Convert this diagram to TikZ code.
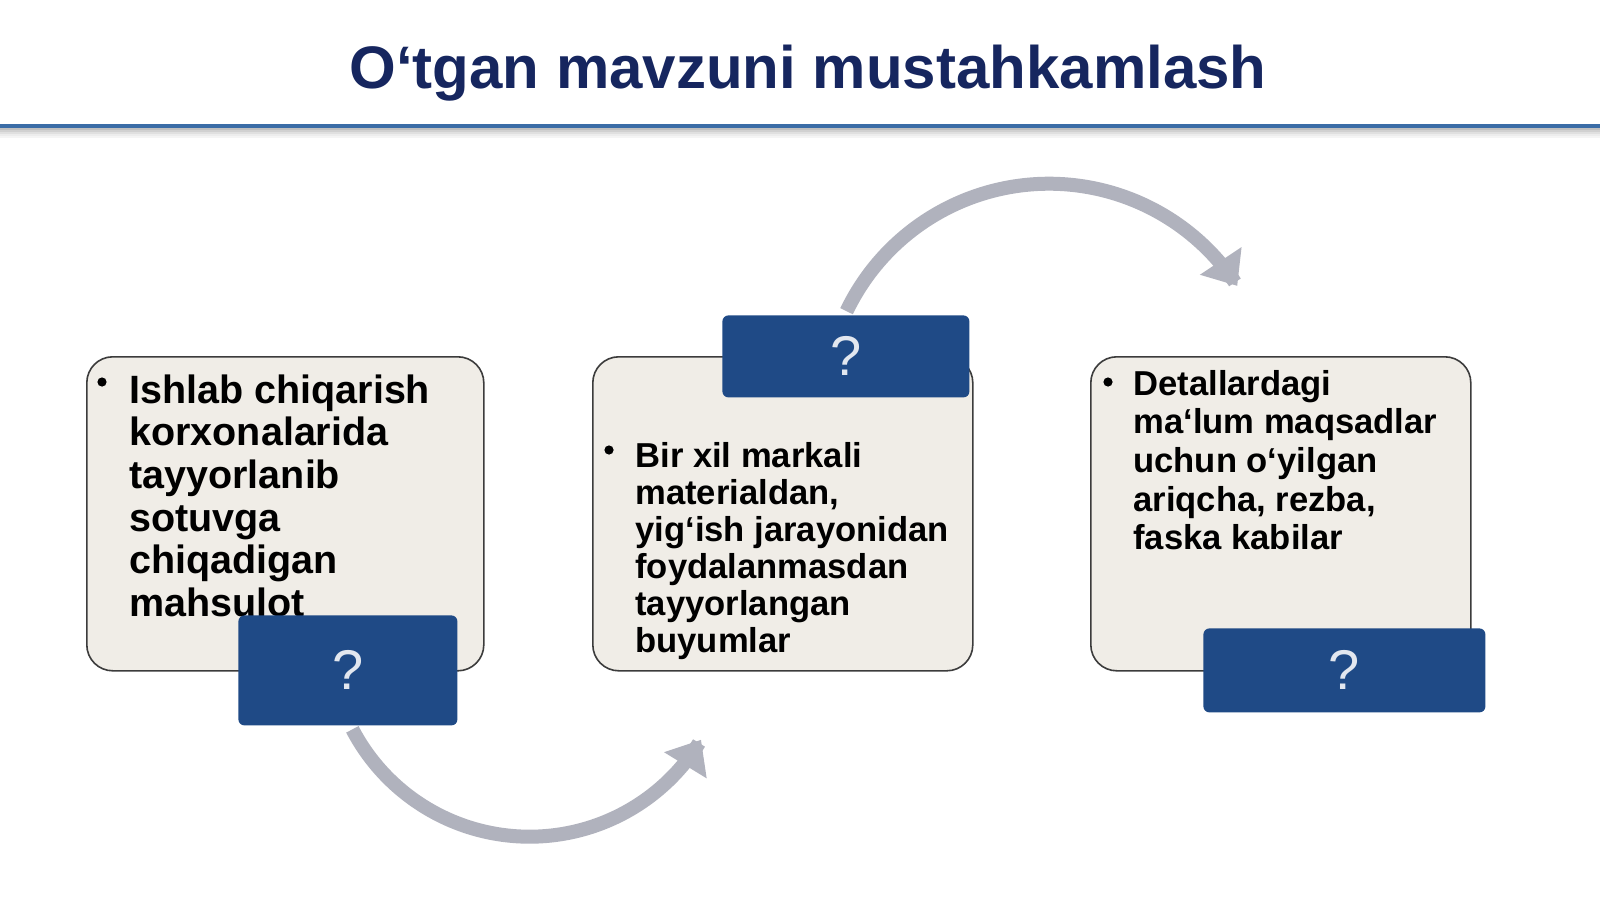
\documentclass[tikz,border=0pt]{standalone}
\usepackage{fontspec}
\setmainfont{Liberation Sans}
\usetikzlibrary{arrows.meta}
\definecolor{navy}{HTML}{16265F}
\definecolor{rulecol}{HTML}{3A6CA6}
\definecolor{boxfill}{HTML}{F0EDE7}
\definecolor{boxline}{HTML}{3C3C3C}
\definecolor{qblue}{HTML}{1F4A86}
\definecolor{qtext}{HTML}{E2E7EF}
\definecolor{arcgray}{HTML}{B0B2BD}
\begin{document}
\begin{tikzpicture}[x=0.5pt,y=-0.5pt,
  card/.style={draw=boxline, line width=0.8pt, fill=boxfill, rounded corners=13pt,
    anchor=north west, inner sep=0pt},
  qbox/.style={fill=qblue, rounded corners=3pt, anchor=north west, inner sep=0pt},
  qmark/.style={text=qtext, inner sep=0pt, font=\fontsize{28}{30}\selectfont},
  bodytext/.style={anchor=base west, inner sep=0pt, text=black},
  bulletdot/.style={fill=black, draw=none, circle, inner sep=0pt, minimum size=4.6pt},
  cyclearrow/.style={draw=arcgray, line width=7pt,
    -{Triangle[width=24pt,length=15pt]}}
]
\useasboundingbox (0,0) rectangle (1600,899);
\fill[white] (0,0) rectangle (1600,899);

% title and rule
\node[anchor=base, inner sep=0pt, text=navy, font=\fontsize{30}{32}\selectfont\bfseries]
  (title) at (808,89) {O‘tgan mavzuni mustahkamlash};
\foreach \i/\o in {0/0.25,1/0.18,2/0.12,3/0.07,4/0.04}
  \draw[black, opacity=\o, line width=1pt] (0,{129+2*\i}) -- (1600,{129+2*\i});
\draw[rulecol, line width=2pt] (0,126) -- (1600,126);

% cards
\node[card, minimum width=198.5pt, minimum height=157pt] (c1) at (86,356) {};
\node[card, minimum width=190pt, minimum height=157pt] (c2) at (592,356) {};
\node[card, minimum width=190pt, minimum height=157pt] (c3) at (1090,356) {};

% texts
\node[bulletdot] (b1) at (102,382) {};
\node[bodytext] (t1) at (129,403) {\parbox[t]{220pt}{\fontsize{19.75}{21.35}\selectfont\bfseries\raggedright
Ishlab chiqarish\\korxonalarida\\tayyorlanib\\sotuvga\\chiqadigan\\mahsulot}};

\node[bulletdot] (b2) at (609,450) {};
\node[bodytext] (t2) at (635,467) {\parbox[t]{220pt}{\fontsize{17.3}{18.5}\selectfont\bfseries\raggedright
Bir xil markali\\materialdan,\\yig‘ish jarayonidan\\foydalanmasdan\\tayyorlangan\\buyumlar}};

\node[bulletdot] (b3) at (1108,382) {};
\node[bodytext] (t3) at (1133,395) {\parbox[t]{220pt}{\fontsize{17.3}{19.35}\selectfont\bfseries\raggedright
Detallardagi\\ma‘lum maqsadlar\\uchun o‘yilgan\\ariqcha, rezba,\\faska kabilar}};

% arrows
\draw[cyclearrow] plot[domain=152.4:31, samples=90, smooth] ({529.6+200*cos(\x)},{636.7+200*sin(\x)});
\draw[cyclearrow] plot[domain=205.6:327, samples=90, smooth] ({1049+224.5*cos(\x)},{408.2+224.5*sin(\x)});

% question boxes
\node[qbox, minimum width=109.5pt, minimum height=55pt] (q1) at (238,615) {};
\node[qmark] (m1) at (q1.center) {?};
\node[qbox, minimum width=123.5pt, minimum height=41pt] (q2) at (722,315) {};
\node[qmark] (m2) at (q2.center) {?};
\node[qbox, minimum width=141pt, minimum height=42pt] (q3) at (1203,628) {};
\node[qmark] (m3) at (q3.center) {?};
\end{tikzpicture}
\end{document}
